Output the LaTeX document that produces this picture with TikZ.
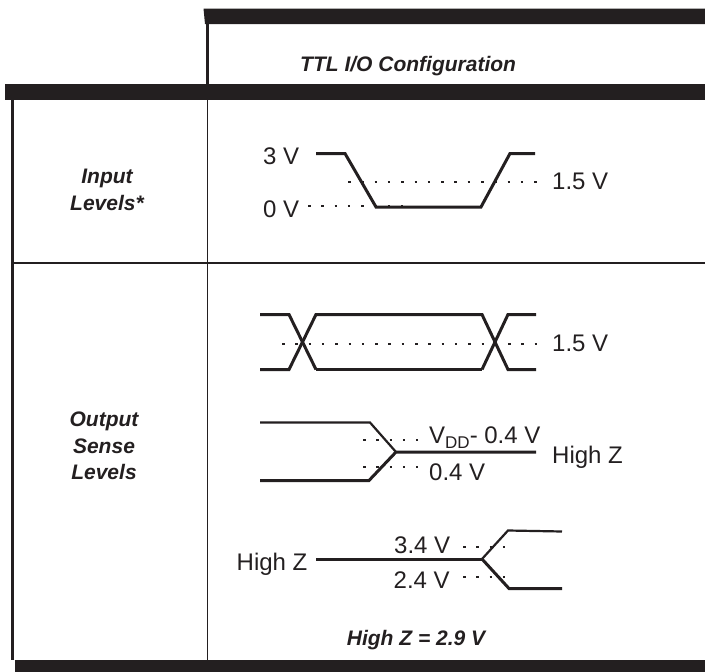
\documentclass[tikz,border=0pt]{standalone}
\usepackage{fontspec}
\setmainfont{Liberation Sans}
\definecolor{ink}{HTML}{231F20}
\tikzset{
  x=1pt,y=-1pt,
  bar/.style={fill=ink,draw=none},
  rule/.style={draw=ink,line width=1.1pt},
  sig/.style={draw=ink,line width=3pt,line join=miter},
  sigthin/.style={draw=ink,line width=2.2pt,line join=miter},
  dots/.style={draw=ink,line width=2.5pt,dash pattern=on 2.5pt off 10.8pt},
  lab/.style={text=ink,font=\fontsize{24}{28}\selectfont,inner sep=0pt,anchor=base west},
  head/.style={text=ink,font=\fontsize{21}{26.5}\selectfont\bfseries\itshape,inner sep=0pt,align=center}
}
\begin{document}
\begin{tikzpicture}
\useasboundingbox (0,0) rectangle (705,672);
% frame
\fill[bar] (203.5,8.5) -- (705,8.5) -- (705,24) -- (205,24) -- cycle;
\fill[bar] (5,84) rectangle (705,100);
\fill[bar] (15,660) rectangle (705,672);
\draw[draw=ink,line width=3pt] (207,24) -- (207,84);
\draw[draw=ink,line width=3pt] (12.5,100) -- (12.5,660);
\draw[rule] (207.3,100) -- (207.3,660);
\draw[rule] (13,263) -- (705,263);
% headings
\node[head,anchor=base west] (title) at (300,71) {TTL I/O Configuration};
\node[head] (inl) at (107,190) {Input\\Levels*};
\node[head] (outl) at (104,446) {Output\\Sense\\Levels};
\node[head,anchor=base] (hz) at (416,645) {High Z = 2.9 V};
% input levels
\draw[dots] (348,182) -- (538,182);
\draw[dots] (308,206) -- (403,206);
\draw[sig] (316,153.5) -- (345,153.5) -- (376,207) -- (481,207) -- (510,153.5) -- (535,153.5);
\node[lab] (v3) at (263,164) {3 V};
\node[lab] (v0) at (263,217) {0 V};
\node[lab] (v15a) at (552,189.5) {1.5 V};
% output levels, crossing
\draw[dots] (282,344) -- (538,344);
\draw[sig] (260,314.5) -- (289,314.5) -- (316,369.5);
\draw[sigthin] (316,369.5) -- (482,369.5);
\draw[sig] (482,369.5) -- (508,314.5) -- (536,314.5);
\draw[sig] (260,369.5) -- (289,369.5) -- (316,314.5) -- (482,314.5) -- (508,369.5) -- (536,369.5);
\node[lab] (v15b) at (552,351) {1.5 V};
% VDD
\draw[dots] (363,440) -- (418,440);
\draw[dots] (363,467) -- (418,467);
\draw[sigthin] (260,422.5) -- (370,422.5) -- (396,452);
\draw[sig] (260,480.5) -- (369,480.5) -- (396,452) -- (536,452);
\node[lab] (vdd) at (429,443) {V\raisebox{-0.22em}{\fontsize{17}{17}\selectfont DD}- 0.4 V};
\node[lab] (v04) at (429,480) {0.4 V};
\node[lab] (hz1) at (552,463) {High Z};
% high z to levels
\draw[dots] (463,547) -- (506,547);
\draw[dots] (463,577) -- (506,577);
\draw[sig] (316,559) -- (482,559);
\draw[sigthin] (482,559) -- (508,530.5) -- (562,531.5);
\draw[sig] (482,559) -- (509,588.5) -- (562,588.5);
\node[lab] (v34) at (394,553) {3.4 V};
\node[lab] (v24) at (393.5,588) {2.4 V};
\node[lab] (hz2) at (236.5,570) {High Z};
\end{tikzpicture}
\end{document}
